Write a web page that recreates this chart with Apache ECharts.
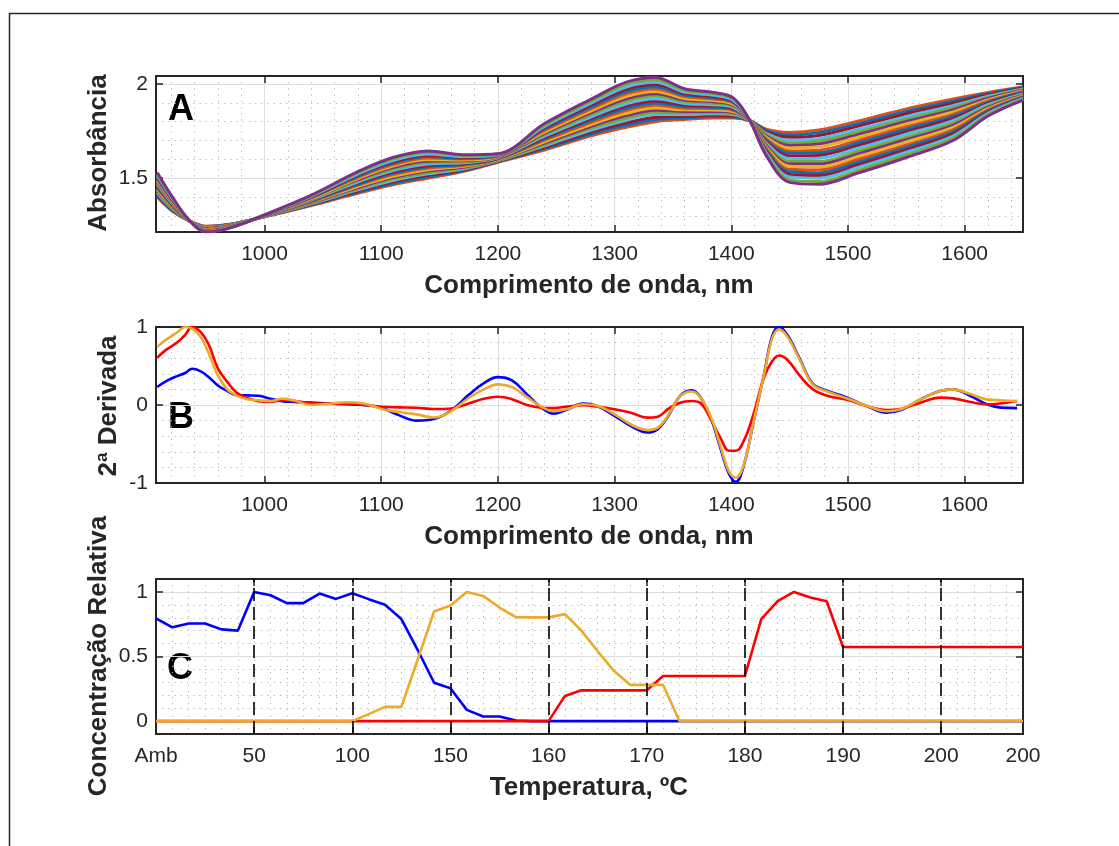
<!DOCTYPE html>
<html><head><meta charset="utf-8">
<script src="https://cdn.jsdelivr.net/npm/echarts@6/dist/echarts.min.js"></script>
<style>html,body{margin:0;padding:0;background:#fff;}#chart{width:1119px;height:846px;}</style>
</head><body><div id="chart"></div>
<script>
// ---------- Panel A: NIR absorbance spectra ----------
const WAVE_A = [908,920,935,950,970,1000,1040,1080,1110,1140,1170,1200,1240,1280,1310,1335,1360,1385,1402,1416,1430,1450,1475,1510,1550,1590,1620,1650];
const SPEC_01 = [1.400,1.330,1.275,1.245,1.255,1.295,1.355,1.420,1.465,1.500,1.535,1.585,1.650,1.725,1.770,1.800,1.812,1.820,1.820,1.805,1.760,1.743,1.756,1.805,1.868,1.920,1.955,1.985];
const SPEC_02 = [1.407,1.334,1.275,1.244,1.254,1.296,1.358,1.426,1.472,1.507,1.540,1.587,1.657,1.735,1.782,1.812,1.820,1.827,1.825,1.805,1.753,1.730,1.742,1.791,1.855,1.909,1.949,1.982];
const SPEC_03 = [1.413,1.338,1.276,1.242,1.253,1.296,1.361,1.432,1.480,1.515,1.544,1.590,1.664,1.745,1.794,1.824,1.828,1.834,1.831,1.805,1.746,1.717,1.727,1.778,1.842,1.898,1.943,1.978];
const SPEC_04 = [1.421,1.343,1.276,1.240,1.252,1.297,1.364,1.438,1.488,1.523,1.549,1.592,1.672,1.756,1.808,1.838,1.838,1.842,1.837,1.805,1.738,1.701,1.710,1.761,1.827,1.885,1.935,1.974];
const SPEC_05 = [1.427,1.347,1.276,1.239,1.251,1.297,1.367,1.444,1.495,1.530,1.554,1.594,1.679,1.766,1.820,1.849,1.846,1.848,1.842,1.805,1.731,1.687,1.696,1.747,1.814,1.874,1.929,1.970];
const SPEC_06 = [1.434,1.351,1.276,1.237,1.250,1.298,1.369,1.450,1.503,1.538,1.558,1.597,1.686,1.776,1.832,1.861,1.854,1.855,1.847,1.805,1.724,1.674,1.681,1.734,1.801,1.863,1.923,1.967];
const SPEC_07 = [1.440,1.355,1.277,1.236,1.249,1.298,1.372,1.456,1.510,1.545,1.563,1.599,1.693,1.785,1.844,1.873,1.863,1.862,1.853,1.805,1.717,1.661,1.667,1.720,1.788,1.852,1.916,1.963];
const SPEC_08 = [1.448,1.360,1.277,1.234,1.248,1.299,1.375,1.463,1.519,1.554,1.568,1.602,1.702,1.797,1.859,1.887,1.872,1.870,1.859,1.805,1.708,1.645,1.649,1.703,1.773,1.839,1.909,1.959];
const SPEC_09 = [1.455,1.364,1.277,1.232,1.247,1.299,1.378,1.468,1.526,1.561,1.573,1.604,1.709,1.807,1.871,1.899,1.880,1.877,1.864,1.805,1.701,1.632,1.635,1.690,1.760,1.828,1.903,1.956];
const SPEC_10 = [1.461,1.368,1.277,1.231,1.246,1.300,1.381,1.474,1.533,1.568,1.577,1.606,1.716,1.817,1.883,1.910,1.889,1.883,1.869,1.805,1.694,1.618,1.621,1.676,1.747,1.817,1.896,1.952];
const SPEC_11 = [1.468,1.372,1.278,1.229,1.245,1.300,1.384,1.480,1.540,1.575,1.582,1.608,1.723,1.826,1.895,1.922,1.897,1.890,1.875,1.805,1.687,1.605,1.606,1.662,1.734,1.806,1.890,1.949];
const SPEC_12 = [1.475,1.376,1.278,1.228,1.243,1.301,1.387,1.487,1.549,1.584,1.587,1.611,1.731,1.838,1.909,1.936,1.907,1.898,1.881,1.805,1.679,1.589,1.589,1.646,1.718,1.792,1.883,1.944];
const SPEC_13 = [1.482,1.380,1.278,1.226,1.242,1.301,1.390,1.492,1.556,1.591,1.592,1.613,1.738,1.848,1.921,1.948,1.915,1.905,1.886,1.805,1.672,1.576,1.575,1.632,1.705,1.781,1.876,1.941];
const SPEC_14 = [1.488,1.384,1.278,1.225,1.241,1.302,1.392,1.498,1.564,1.599,1.596,1.616,1.745,1.858,1.933,1.960,1.923,1.912,1.891,1.805,1.665,1.563,1.560,1.618,1.693,1.770,1.870,1.937];
const SPEC_15 = [1.496,1.389,1.279,1.223,1.240,1.302,1.396,1.505,1.572,1.607,1.602,1.618,1.754,1.869,1.948,1.974,1.933,1.920,1.898,1.805,1.656,1.547,1.543,1.602,1.677,1.757,1.863,1.933];
const SPEC_16 = [1.503,1.393,1.279,1.221,1.239,1.303,1.398,1.511,1.580,1.615,1.606,1.621,1.761,1.879,1.960,1.986,1.941,1.927,1.903,1.805,1.649,1.534,1.528,1.588,1.664,1.746,1.856,1.930];
const SPEC_17 = [1.509,1.397,1.279,1.220,1.238,1.303,1.401,1.517,1.587,1.622,1.611,1.623,1.768,1.889,1.972,1.997,1.949,1.933,1.908,1.805,1.642,1.520,1.514,1.574,1.651,1.735,1.850,1.926];
const SPEC_18 = [1.516,1.401,1.279,1.218,1.237,1.304,1.404,1.522,1.594,1.629,1.615,1.625,1.775,1.899,1.984,2.009,1.957,1.940,1.913,1.805,1.635,1.507,1.500,1.560,1.638,1.724,1.844,1.923];
const SPEC_19 = [1.524,1.406,1.280,1.217,1.236,1.305,1.407,1.529,1.603,1.638,1.621,1.628,1.783,1.910,1.998,2.023,1.967,1.948,1.920,1.805,1.627,1.491,1.482,1.544,1.623,1.711,1.836,1.919];
const SPEC_20 = [1.530,1.410,1.280,1.215,1.235,1.305,1.410,1.535,1.610,1.645,1.625,1.630,1.790,1.920,2.010,2.035,1.975,1.955,1.925,1.805,1.620,1.478,1.468,1.530,1.610,1.700,1.830,1.915];
const SPECTRA = [SPEC_01,SPEC_02,SPEC_03,SPEC_04,SPEC_05,SPEC_06,SPEC_07,SPEC_08,SPEC_09,SPEC_10,SPEC_11,SPEC_12,SPEC_13,SPEC_14,SPEC_15,SPEC_16,SPEC_17,SPEC_18,SPEC_19,SPEC_20];

// ---------- Panel B: 2nd derivative ----------
const WAVE_B = [908,915,925,932,938,945,952,960,968,976,985,995,1005,1015,1025,1040,1055,1070,1085,1100,1115,1130,1145,1160,1175,1188,1200,1212,1225,1237,1248,1260,1273,1285,1300,1314,1328,1337,1346,1356,1366,1374,1383,1391,1398,1404,1411,1419,1428,1435,1441,1448,1459,1470,1483,1500,1516,1533,1546,1562,1579,1590,1605,1619,1631,1645];
const DERIV_BLUE = [0.23,0.30,0.37,0.41,0.464,0.434,0.36,0.25,0.18,0.125,
  0.123,0.118,0.08,0.05,0.04,0.03,0.02,0.01,0.0,-0.035,
  -0.13,-0.2,-0.18,-0.07,0.13,0.28,0.357,0.315,0.136,-0.03,
  -0.11,-0.055,0.017,-0.013,-0.14,-0.27,-0.353,-0.31,-0.14,0.115,
  0.187,0.09,-0.19,-0.57,-0.88,-0.985,-0.76,-0.225,0.39,0.88,
  1.0,0.9,0.583,0.27,0.18,0.09,-0.013,-0.098,-0.06,0.072,
  0.179,0.2,0.115,0.01,-0.034,-0.04];
const DERIV_RED = [0.604,0.70,0.80,0.90,1.0,0.94,0.78,0.47,0.30,0.16,
  0.09,0.05,0.04,0.062,0.05,0.025,0.017,0.017,0.0,-0.022,
  -0.03,-0.035,-0.052,-0.045,0.02,0.08,0.106,0.075,0.0,-0.035,
  -0.04,-0.02,-0.004,-0.02,-0.055,-0.1,-0.162,-0.15,-0.05,0.03,
  0.051,0.02,-0.2,-0.43,-0.587,-0.587,-0.45,-0.12,0.35,0.56,
  0.634,0.58,0.37,0.2,0.115,0.064,-0.013,-0.064,-0.047,0.03,
  0.094,0.085,0.038,0.009,0.021,0.051];
const DERIV_ORANGE = [0.745,0.83,0.93,1.0,0.98,0.88,0.67,0.38,0.2,0.12,
  0.075,0.06,0.05,0.08,0.06,0.0,0.015,0.036,0.02,-0.05,
  -0.09,-0.12,-0.16,-0.08,0.09,0.2,0.264,0.23,0.1,-0.02,
  -0.08,-0.05,0.009,-0.01,-0.12,-0.25,-0.32,-0.29,-0.13,0.11,
  0.174,0.09,-0.17,-0.54,-0.85,-0.93,-0.75,-0.22,0.38,0.85,
  0.966,0.88,0.57,0.26,0.17,0.08,-0.01,-0.08,-0.05,0.07,
  0.18,0.2,0.14,0.072,0.06,0.05];

// ---------- Panel C: relative concentration ----------
const CONC_BLUE = [0.795,0.726,0.756,0.756,0.71,0.70,1.0,0.974,0.913,0.913,0.987,0.946,0.99,0.944,0.90,0.79,0.55,0.297,0.254,0.087,0.036,0.036,0.005,
  0,0,0,0,0,0,0,0,0,0,0,0,0,0,0,0,0,0,0,0,0,0,0,0,0,0,0,0,0,0,0];
const CONC_RED = [0,0,0,0,0,0,0,0,0,0,0,0,0,0,0,0,0,0,0,0,0,0,0,0,0,
  0.195,0.238,0.238,0.238,0.238,0.238,0.349,0.349,0.349,0.349,0.349,0.349,
  0.79,0.928,1.0,0.956,0.928,
  0.574,0.574,0.574,0.574,0.574,0.574,0.574,0.574,0.574,0.574,0.574,0.574];
const CONC_ORANGE = [0,0,0,0,0,0,0,0,0,0,0,0,0,
  0.054,0.11,0.11,0.477,0.849,0.895,1.0,0.969,0.879,0.805,0.803,0.803,0.828,0.70,0.541,0.387,0.28,0.28,0.28,
  0,0,0,0,0,0,0,0,0,0,0,0,0,0,0,0,0,0,0,0,0,0];
const TEMP_TICK_INDEX = [0,6,12,18,24,30,36,42,48,53];
const TEMP_TICK_LABELS = ['Amb','50','100','150','160','170','180','190','200','200'];
const TEMP_DASH_INDEX = [6,12,18,24,30,36,42,48];

// ---------- styling ----------
const FONT = '"Liberation Sans", Arial, Helvetica, sans-serif';
const TXT = '#262626';
const MATLAB = ['#0072BD','#D95319','#EDB120','#7E2F8E','#77AC30','#4DBEEE','#A2142F'];
const C_BLUE = '#0000FF', C_RED = '#FF0000', C_ORANGE = '#EDA92A';
const GRID_MAJOR = {show:true, lineStyle:{color:'#dedede', width:1, type:'solid'}};
const GRID_MINOR = {show:true, lineStyle:{color:'#b4b4b4', width:1, type:[1.2,5]}};
const BOX = {show:true, onZero:false, lineStyle:{color:TXT, width:2}};
const TICK = {show:true, inside:true, length:7, lineStyle:{color:TXT, width:1.5}};
const plainNum = v => String(Math.round(v * 1000) / 1000);
const LABEL = {show:true, color:TXT, fontSize:21, fontFamily:FONT, margin:12, showMinLabel:false, showMaxLabel:false, formatter:plainNum};
const OFF = {show:false};

function minorAxis(g, min, max, extra){
  return Object.assign({type:'value', gridIndex:g, min:min, max:max, axisLine:{show:false}, axisTick:OFF, axisLabel:OFF, splitLine:GRID_MINOR}, extra);
}
function majorAxis(g, min, max, pos, labels, extra){
  return Object.assign({type:'value', gridIndex:g, min:min, max:max, position:pos, axisLine:BOX, axisTick:TICK,
    axisLabel: labels ? LABEL : OFF, splitLine: labels ? GRID_MAJOR : OFF}, extra);
}

const SAMPLES = CONC_BLUE.map((_, i) => i);
const tickFilter = (idx) => TEMP_TICK_INDEX.indexOf(idx) >= 0;

const xAxis = [
  minorAxis(0, 907, 1650, {splitNumber:37}),
  majorAxis(0, 907, 1650, 'bottom', true, {splitNumber:7}),
  majorAxis(0, 907, 1650, 'top', false, {splitNumber:7}),
  minorAxis(1, 907, 1650, {splitNumber:37}),
  majorAxis(1, 907, 1650, 'bottom', true, {splitNumber:7}),
  majorAxis(1, 907, 1650, 'top', false, {splitNumber:7}),
  {type:'category', gridIndex:2, data:SAMPLES, boundaryGap:false, position:'bottom', axisLine:BOX,
    axisTick:Object.assign({}, TICK, {interval:tickFilter}),
    axisLabel:{show:true, color:TXT, fontSize:21, fontFamily:FONT, margin:12, interval:tickFilter,
      formatter:(v, i) => TEMP_TICK_LABELS[TEMP_TICK_INDEX.indexOf(Number(v))]},
    splitLine:{show:true, interval:0, lineStyle:GRID_MINOR.lineStyle}},
  {type:'category', gridIndex:2, data:SAMPLES, boundaryGap:false, position:'top', axisLine:BOX,
    axisTick:Object.assign({}, TICK, {interval:tickFilter}), axisLabel:OFF, splitLine:OFF}
];
const yAxis = [
  minorAxis(0, 1.2144, 2.0426, {splitNumber:8}),
  majorAxis(0, 1.2144, 2.0426, 'left', true, {splitNumber:2}),
  majorAxis(0, 1.2144, 2.0426, 'right', false, {splitNumber:2}),
  minorAxis(1, -1, 1, {interval:0.2}),
  majorAxis(1, -1, 1, 'left', true, {interval:1, axisLabel:Object.assign({}, LABEL, {showMinLabel:true, showMaxLabel:true})}),
  majorAxis(1, -1, 1, 'right', false, {interval:1}),
  minorAxis(2, -0.1, 1.1, {interval:0.1}),
  majorAxis(2, -0.1, 1.1, 'left', true, {splitNumber:2}),
  majorAxis(2, -0.1, 1.1, 'right', false, {splitNumber:2})
];
yAxis.forEach(a => { a.axisLabel && a.axisLabel.show && (a.axisLabel = Object.assign({}, a.axisLabel, {margin:8})); });

const series = [];
SPECTRA.forEach((s, k) => {
  series.push({type:'line', xAxisIndex:1, yAxisIndex:1, showSymbol:false, symbol:'none', smooth:0.35,
    lineStyle:{width:3, color:MATLAB[(22 - k) % 7]}, data: WAVE_A.map((w, i) => [w, s[i]])});
});
[[DERIV_BLUE, C_BLUE],[DERIV_RED, C_RED],[DERIV_ORANGE, C_ORANGE]].forEach(([arr, col]) => {
  series.push({type:'line', xAxisIndex:4, yAxisIndex:4, showSymbol:false, symbol:'none', smooth:0.4,
    lineStyle:{width:2.6, color:col}, data: WAVE_B.map((w, i) => [w, arr[i]])});
});
series.push({type:'line', xAxisIndex:6, yAxisIndex:7, showSymbol:false, symbol:'none',
  lineStyle:{width:2.6, color:C_BLUE}, data:CONC_BLUE,
  markLine:{silent:true, symbol:'none', label:{show:false}, animation:false,
    lineStyle:{color:'#000', width:1.6, type:[13,6]}, data: TEMP_DASH_INDEX.map(i => ({xAxis:i}))}});
series.push({type:'line', xAxisIndex:6, yAxisIndex:7, showSymbol:false, symbol:'none', lineStyle:{width:2.6, color:C_RED}, data:CONC_RED});
series.push({type:'line', xAxisIndex:6, yAxisIndex:7, showSymbol:false, symbol:'none', lineStyle:{width:2.6, color:C_ORANGE}, data:CONC_ORANGE});

function txt(x, y, s, size, rot, color){
  return {type:'text', x:x, y:y, rotation:rot || 0, silent:true,
    style:{text:s, fontSize:size, fontWeight:'bold', fontFamily:FONT, fill:color || TXT, align:'center', verticalAlign:'middle'}};
}
const graphic = [
  {type:'rect', silent:true, shape:{x:9.5, y:13.5, width:1400, height:1000}, style:{fill:'none', stroke:'#262626', lineWidth:1.5}},
  txt(99, 153, 'Absorbância', 26, Math.PI/2),
  txt(589, 286, 'Comprimento de onda, nm', 26),
  txt(109, 406, '2ª Derivada', 26, Math.PI/2),
  txt(589, 537, 'Comprimento de onda, nm', 26),
  txt(99, 656, 'Concentração Relativa', 26, Math.PI/2),
  txt(589, 788, 'Temperatura, ºC', 26),
  txt(181, 110, 'A', 36, 0, '#000'),
  txt(181, 418, 'B', 36, 0, '#000'),
  txt(180, 669, 'C', 36, 0, '#000')
];

const chart = echarts.init(document.getElementById('chart'), null, {renderer:'canvas'});
chart.setOption({
  animation:false,
  backgroundColor:'#ffffff',
  grid:[
    {left:156, top:76, width:867, height:156, outerBoundsMode:'none'},
    {left:156, top:327, width:867, height:156, outerBoundsMode:'none'},
    {left:156, top:579, width:867, height:155, outerBoundsMode:'none'}
  ],
  xAxis:xAxis, yAxis:yAxis, series:series, graphic:graphic
});
</script></body></html>
